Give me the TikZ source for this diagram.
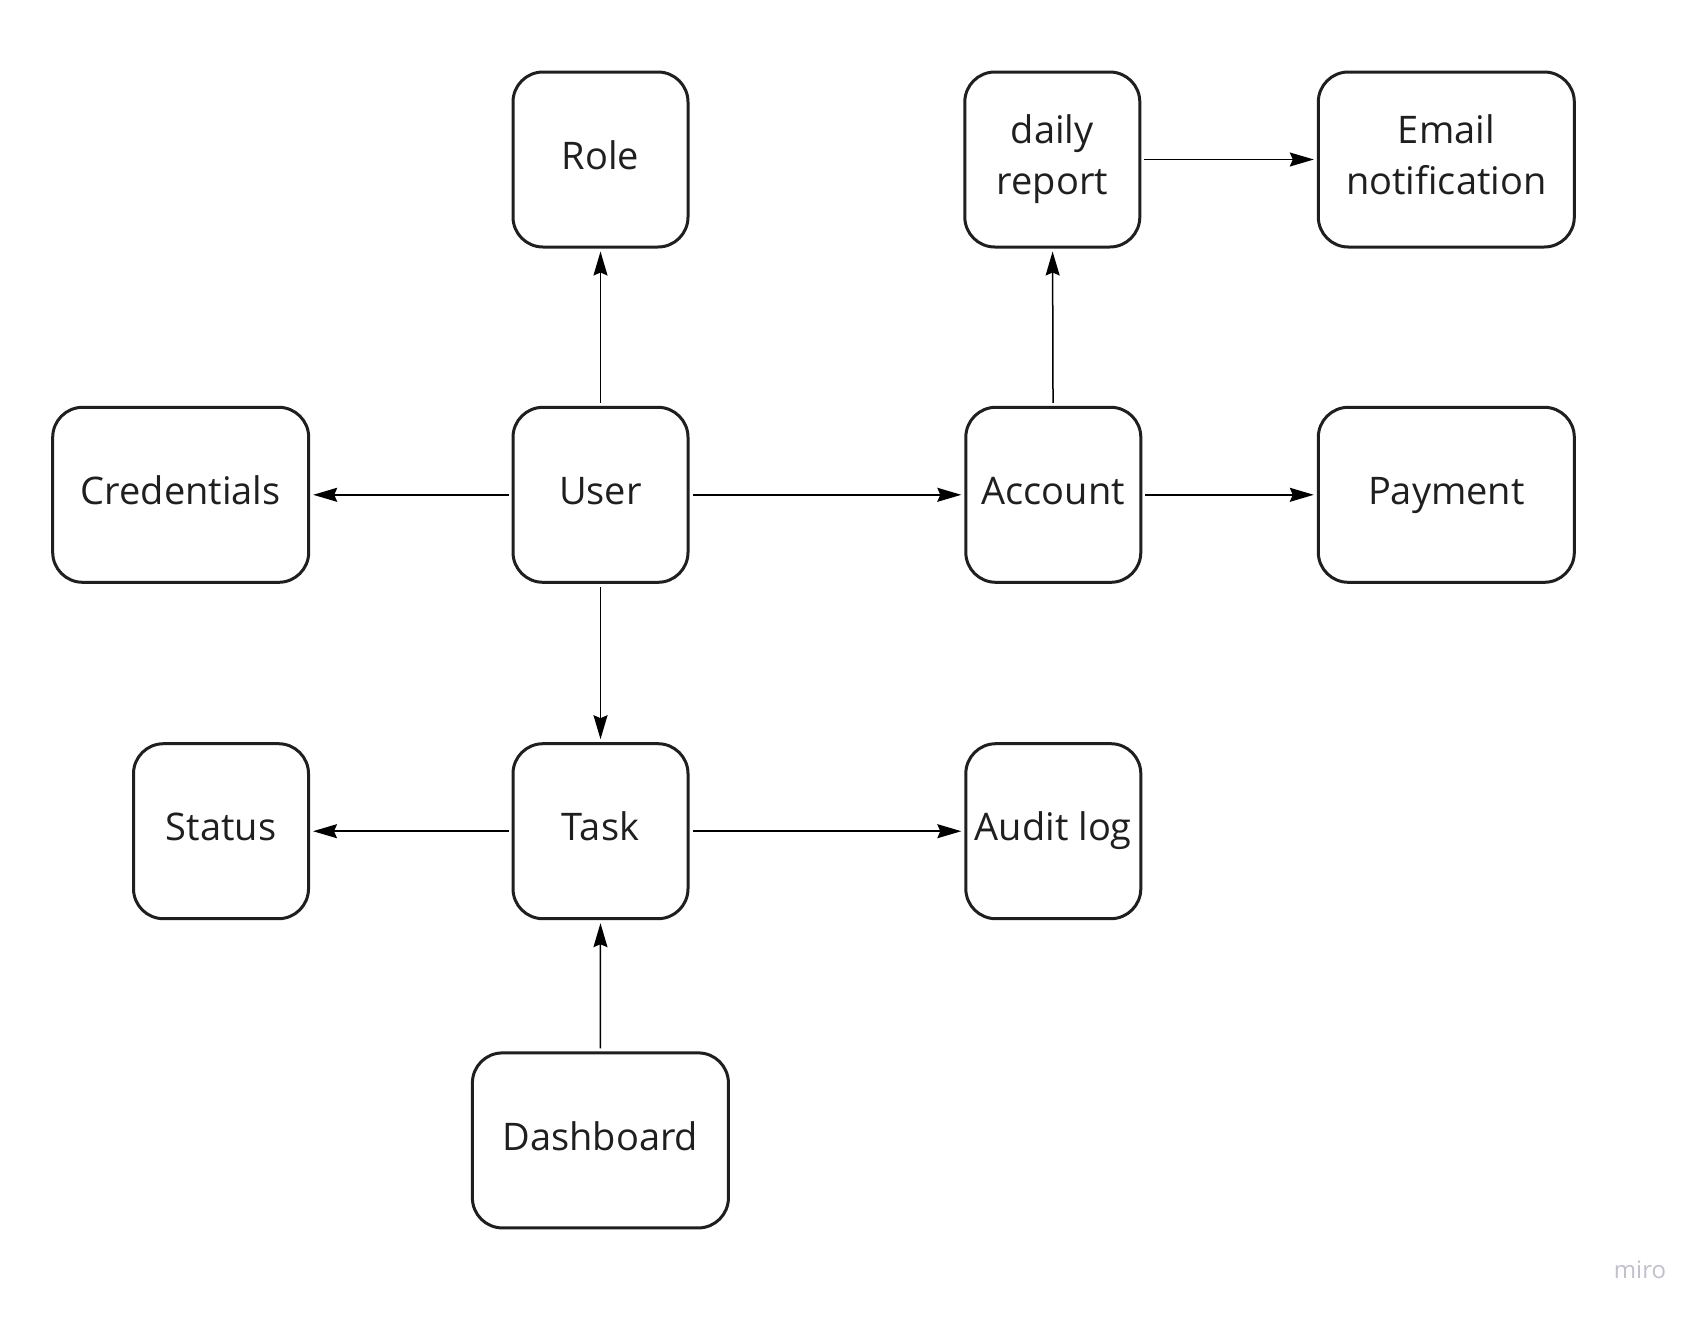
\documentclass[tikz,border=0pt]{standalone}
\usepackage{fontspec}
\setmainfont{Open Sans}
\usetikzlibrary{arrows.meta}
\newcommand\ls{\rule[-15.8pt]{0pt}{51pt}}
\definecolor{mirogray}{RGB}{192,192,206}
\begin{document}
\begin{tikzpicture}[x=1pt,y=-1pt,
  box/.style={draw=black!88, line width=3pt, rounded corners=30pt, minimum height=175pt,
    align=center, font=\fontsize{38}{51}\selectfont, text=black!88, inner sep=0pt},
  sq/.style={box, minimum width=175pt},
  wide/.style={box, minimum width=256pt},
  conn/.style={line width=1.5pt, -{Stealth[length=24pt,width=14pt,inset=3pt]}, shorten <=3pt, shorten >=3pt}]
\useasboundingbox (0,0) rectangle (1707,1317);
\fill[white] (0,0) rectangle (1707,1317);
\node[sq] (role) at (600.5,159.5) {\ls Role};
\node[sq] (daily) at (1052.3,159.5) {\ls daily\\\ls report};
\node[wide] (email) at (1446.3,159.5) {\ls Email\\\ls notification};
\node[wide] (cred) at (180.7,494.8) {\ls Credentials};
\node[sq] (user) at (600.5,494.8) {\ls User};
\node[sq] (account) at (1053.3,494.8) {\ls Account};
\node[wide] (payment) at (1446.3,494.8) {\ls Payment};
\node[sq] (status) at (221,831.2) {\ls Status};
\node[sq] (task) at (600.5,831.2) {\ls Task};
\node[sq] (audit) at (1053.3,831.2) {\ls Audit log};
\node[wide] (dash) at (600.4,1140.4) {\ls Dashboard};
\node[text=mirogray, font=\fontsize{24}{28}\selectfont] (miro) at (1640,1270) {miro};
\draw[conn] (user) -- (role);
\draw[conn] (user) -- (cred);
\draw[conn] (user) -- (account);
\draw[conn] (user) -- (task);
\draw[conn] (account) -- (payment);
\draw[conn] (account) -- (daily);
\draw[conn] (daily) -- (email);
\draw[conn] (task) -- (status);
\draw[conn] (task) -- (audit);
\draw[conn] (dash) -- (task);
\end{tikzpicture}
\end{document}
